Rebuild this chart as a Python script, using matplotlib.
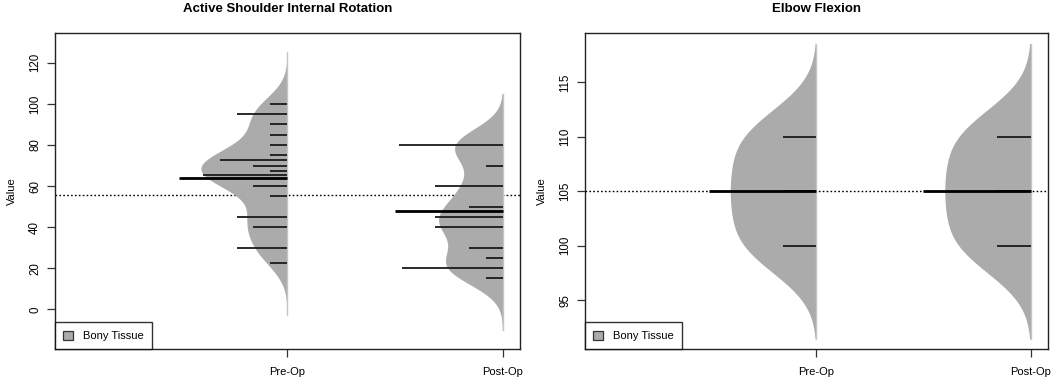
import numpy as np
import matplotlib.pyplot as plt

plt.rcParams['font.family'] = ['Liberation Sans', 'DejaVu Sans']

groups = ["Pre-Op", "Post-Op"]

# values, counts from the line lengths
shoulder_pre_vals = [100, 95, 90, 85, 80, 75, 72.5, 70, 67.5, 65.5, 60, 55, 45, 40, 30, 22.5]
shoulder_pre_counts = [1, 3, 1, 1, 1, 1, 4, 2, 1, 5, 2, 1, 3, 2, 3, 1]
shoulder_post_vals = [80, 70, 60, 50, 45, 40, 30, 25, 20, 15]
shoulder_post_counts = [7, 1, 4, 2, 4, 4, 2, 1, 6, 1]

elbow_pre_vals = [110, 105, 100]
elbow_pre_counts = [2, 2, 2]
elbow_post_vals = [110, 105, 100]
elbow_post_counts = [2, 2, 2]

bean_color = "#ababab"
line_unit = 0.078   # bean line length per observation
line_cap = 0.48     # longest bean line
mean_len = 0.50     # bean average line
max_width = 0.40    # widest bean half-width


def kde(vals, counts, bw, cut):
    vals = np.array(vals, dtype=float)
    w = np.array(counts, dtype=float)
    w = w / w.sum()
    grid = np.linspace(vals.min() - cut * bw, vals.max() + cut * bw, 400)
    d = np.zeros_like(grid)
    for v, wi in zip(vals, w):
        d += wi * np.exp(-0.5 * ((grid - v) / bw) ** 2) / (bw * np.sqrt(2 * np.pi))
    return grid, d


def beanplot(ax, data, bw, cut, title, yticks, ylim):
    dens = [kde(v, c, bw, cut) for v, c in data]
    top = max(d.max() for g, d in dens)

    allv = np.concatenate([np.repeat(v, c) for v, c in data])
    ax.axhline(allv.mean(), color="black", ls=(0, (1.2, 1.6)), lw=1.0, zorder=1)

    for i, ((v, c), (g, d)) in enumerate(zip(data, dens)):
        pos = i + 1
        ax.fill_betweenx(g, pos - d / top * max_width, pos, color=bean_color, lw=0, zorder=2)
        ax.plot([pos, pos], [g[0], g[-1]], color="#c4c4c4", lw=1.0, zorder=3)
        for val, n in zip(v, c):
            ln = min(n * line_unit, line_cap)
            ax.plot([pos - ln, pos], [val, val], color="#1a1a1a", lw=1.3,
                    solid_capstyle="butt", zorder=4)
        m = np.repeat(v, c).mean()
        ax.plot([pos - mean_len, pos], [m, m], color="black", lw=2.0,
                solid_capstyle="butt", zorder=5)

    ax.set_xlim(-0.077, 2.081)
    ax.set_ylim(*ylim)
    ax.set_xticks([1, 2])
    ax.set_xticklabels(groups, fontsize=8)
    ax.set_yticks(yticks)
    ax.set_yticklabels([str(t) for t in yticks], fontsize=8.3, rotation=90, va="center")
    ax.tick_params(direction="out", length=6, width=0.9, color="#333333", pad=4)
    ax.tick_params(axis="x", pad=7)
    for s in ax.spines.values():
        s.set_linewidth(1.0)
        s.set_color("#222222")
    ax.set_ylabel("Value", fontsize=8, labelpad=9)
    ax.set_title(title, fontsize=9.5, fontweight="bold", pad=15)

    patch = plt.Rectangle((0, 0), 1, 1, facecolor=bean_color, edgecolor="#333333", lw=0.9)
    leg = ax.legend([patch], ["Bony Tissue"], loc="lower left", fontsize=8,
                    fancybox=False, borderaxespad=0, handlelength=0.9, handleheight=0.9,
                    borderpad=0.75, handletextpad=0.9)
    leg.get_frame().set_edgecolor("black")
    leg.get_frame().set_linewidth(1.0)


fig = plt.figure(figsize=(10.56, 3.81), dpi=100)
ax1 = fig.add_axes([0.0521, 0.0832, 0.4403, 0.8294])
ax2 = fig.add_axes([0.5540, 0.0832, 0.4384, 0.8294])

beanplot(ax1, [(shoulder_pre_vals, shoulder_pre_counts), (shoulder_post_vals, shoulder_post_counts)],
         8.5, 2.95, "Active Shoulder Internal Rotation", [0, 20, 40, 60, 80, 100, 120], (-19.5, 134.4))
beanplot(ax2, [(elbow_pre_vals, elbow_pre_counts), (elbow_post_vals, elbow_post_counts)],
         3.0, 2.85, "Elbow Flexion", [95, 100, 105, 110, 115], (90.5, 119.5))

fig.savefig("out.png", dpi=100)
